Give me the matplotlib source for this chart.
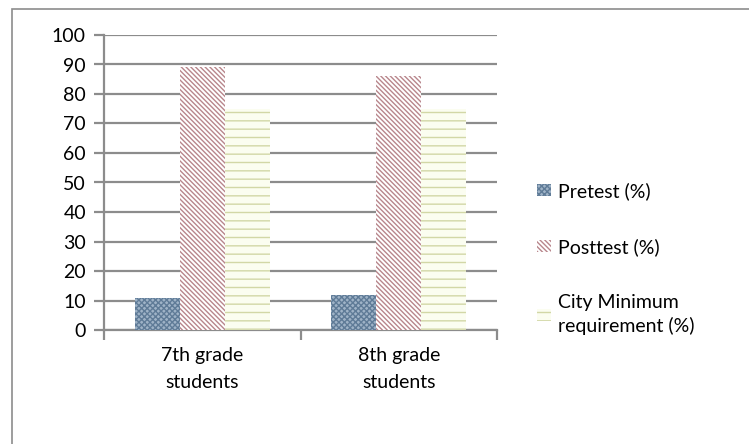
import numpy as np
import matplotlib.pyplot as plt
from matplotlib.patches import Rectangle

plt.rcParams['font.family'] = ['Lato', 'DejaVu Sans']
plt.rcParams['hatch.linewidth'] = 1.0

categories = ['7th grade\nstudents', '8th grade\nstudents']
series_names = ['Pretest (%)', 'Posttest (%)', 'City Minimum\nrequirement (%)']
pretest = [11, 12]
posttest = [89, 86]
city_min = [75, 75]
y_ticks = list(range(0, 101, 10))

fig = plt.figure(figsize=(7.49, 4.44), dpi=100)
# outer chart frame (right and bottom edges fall outside the picture)
fig.patches.append(Rectangle((12 / 749, -0.1), 1.2, 1.1 - 9 / 444, transform=fig.transFigure,
                             fill=False, edgecolor='#8c8c8c', linewidth=1.2))
ax = fig.add_axes([104 / 749, 114 / 444, 393 / 749, 295 / 444])

grid_c = '#8c8c8c'
x = np.arange(len(categories))
w = 0.229

styles = [
    dict(facecolor='#9fb3c7', edgecolor='#5f7b97', hatch='xxxxxx'),
    dict(facecolor='white', edgecolor='#b8868c', hatch='\\' * 7),
    dict(facecolor='#fbfdf0', edgecolor='#d2d7a6', hatch='--'),
]
data = [pretest, posttest, city_min]
for i, (vals, name, st) in enumerate(zip(data, series_names, styles)):
    ax.bar(x + (i - 1) * w, vals, w, label=name, linewidth=0, zorder=3, **st)

ax.set_xlim(-0.5, 1.5)
ax.set_ylim(0, 100)
ax.set_yticks(y_ticks)
ax.yaxis.grid(True, color=grid_c, linewidth=1.6, zorder=0)
ax.set_axisbelow(True)

ax.set_xticks(x)
ax.set_xticklabels(categories, fontsize=14, linespacing=1.75)
ax.tick_params(axis='x', which='major', length=0, pad=12)
ax.set_xticks([-0.5, 0.5, 1.5], minor=True)
ax.tick_params(axis='x', which='minor', length=7, color=grid_c, width=1.6)
ax.tick_params(axis='y', length=7, color=grid_c, width=1.6, labelsize=14, pad=6)

for s in ['top', 'right']:
    ax.spines[s].set_visible(False)
for s in ['left', 'bottom']:
    ax.spines[s].set_color(grid_c)
    ax.spines[s].set_linewidth(1.6)

leg = fig.legend(loc='upper left', bbox_to_anchor=(537 / 749, 1 - 182 / 444), frameon=False,
                 fontsize=14, borderpad=0, borderaxespad=0, handlelength=0.7, handleheight=0.6,
                 handletextpad=0.4, labelspacing=1.95)
for t in leg.get_texts():
    t.set_linespacing(1.45)

fig.savefig('out.png', dpi=100)
